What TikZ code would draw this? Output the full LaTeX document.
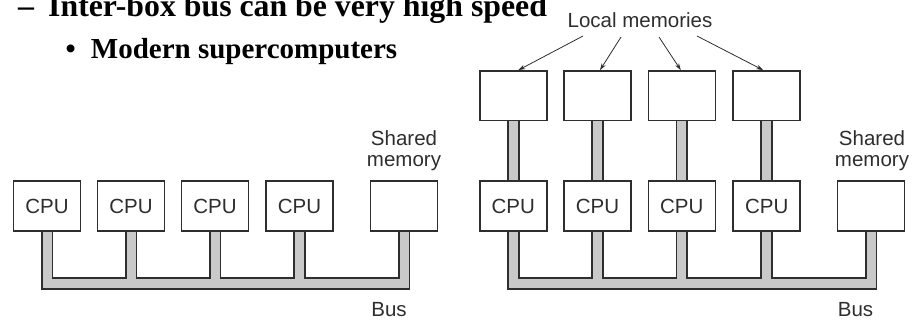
\documentclass[tikz,border=0pt]{standalone}
\usepackage{fontspec}
\setmainfont{Liberation Serif}
\newfontfamily\labfont{Liberation Sans}
\usetikzlibrary{arrows.meta,calc}
\pgfdeclarelayer{bg}
\pgfsetlayers{bg,main}

\definecolor{ink}{gray}{0.18}
\definecolor{busfill}{gray}{0.79}

\tikzset{
  unitbox/.style={draw=ink, line width=1.6pt, fill=white, minimum width=67pt,
    minimum height=49.5pt, inner sep=0pt, text=ink,
    font=\labfont\fontsize{20.5pt}{22pt}\selectfont},
  lab/.style={inner sep=0pt, text=ink, align=center,
    font=\labfont\fontsize{20.5pt}{21.5pt}\selectfont},
  head/.style={inner sep=0pt, anchor=base west,
    font=\bfseries\fontsize{31.8pt}{34pt}\selectfont},
  subhead/.style={inner sep=0pt, anchor=base west,
    font=\bfseries\fontsize{29pt}{32pt}\selectfont},
  busout/.style={draw=ink, line width=12.5pt, line join=miter, line cap=butt},
  busin/.style={draw=busfill, line width=9pt, line join=miter, line cap=butt},
  arr/.style={draw=ink, line width=0.8pt, -{Stealth[length=7pt,width=4.5pt]}},
}

\begin{document}
\begin{tikzpicture}[x=1pt,y=1pt]
\useasboundingbox (0,0) rectangle (912,-323);
\clip (0,0) rectangle (912,-323);

% heading lines
\node[head] (dash) at (18,-17) {–};
\node[head] (h1) at (48,-17) {Inter-box bus can be very high speed};
\node[subhead] (bul) at (65.5,-59) {•};
\node[subhead] (h2) at (90.7,-59) {Modern supercomputers};

% left: shared-memory machine
\node[unitbox] (c1) at (47,-206) {CPU};
\node[unitbox] (c2) at (131,-206) {CPU};
\node[unitbox] (c3) at (215,-206) {CPU};
\node[unitbox] (c4) at (299.5,-206) {CPU};
\node[unitbox] (sm) at (404,-206) {};
\node[lab, anchor=south] (smlab) at (404,-171.2) {Shared\\memory};
\node[lab, anchor=base] (buslab) at (389,-316.5) {Bus};
\coordinate (lbus) at (404,-283.3);

% right: local memories plus shared memory
\node[unitbox] (m1) at (513.3,-95.7) {};
\node[unitbox] (m2) at (597.5,-95.7) {};
\node[unitbox] (m3) at (681.8,-95.7) {};
\node[unitbox] (m4) at (766.7,-95.7) {};
\node[unitbox] (d1) at (513.3,-206) {CPU};
\node[unitbox] (d2) at (597.5,-206) {CPU};
\node[unitbox] (d3) at (681.8,-206) {CPU};
\node[unitbox] (d4) at (766.7,-206) {CPU};
\node[unitbox] (sm2) at (871,-206) {};
\node[lab, anchor=south] (sm2lab) at (872,-171.2) {Shared\\memory};
\node[lab, anchor=base] (bus2lab) at (855.5,-316.5) {Bus};
\node[lab, anchor=base] (lmlab) at (640,-28) {Local memories};
\coordinate (rbus) at (871,-283.3);

% arrows from the label to the local memories
\draw[arr] ([shift={(-57,-8)}]lmlab.base) -- ([xshift=5pt]m1.north);
\draw[arr] ([shift={(-19,-9)}]lmlab.base) -- ([xshift=2.5pt]m2.north);
\draw[arr] ([shift={(19,-9)}]lmlab.base) -- ([xshift=-1pt]m3.north);
\draw[arr] ([shift={(57,-8)}]lmlab.base) -- ([xshift=-3.5pt]m4.north);

% buses, drawn beneath the boxes
\begin{pgfonlayer}{bg}
  \foreach \sty in {busout,busin} {
    \draw[\sty] (c1.south) |- (lbus) -- (sm.south);
    \foreach \n in {c2,c3,c4}
      \draw[\sty] (\n.south) -- (\n.south |- lbus);
    \draw[\sty] (d1.south) |- (rbus) -- (sm2.south);
    \foreach \n in {d2,d3,d4}
      \draw[\sty] (\n.south) -- (\n.south |- rbus);
    \foreach \i in {1,2,3,4}
      \draw[\sty] (m\i.south) -- (d\i.north);
  }
\end{pgfonlayer}
\end{tikzpicture}
\end{document}
